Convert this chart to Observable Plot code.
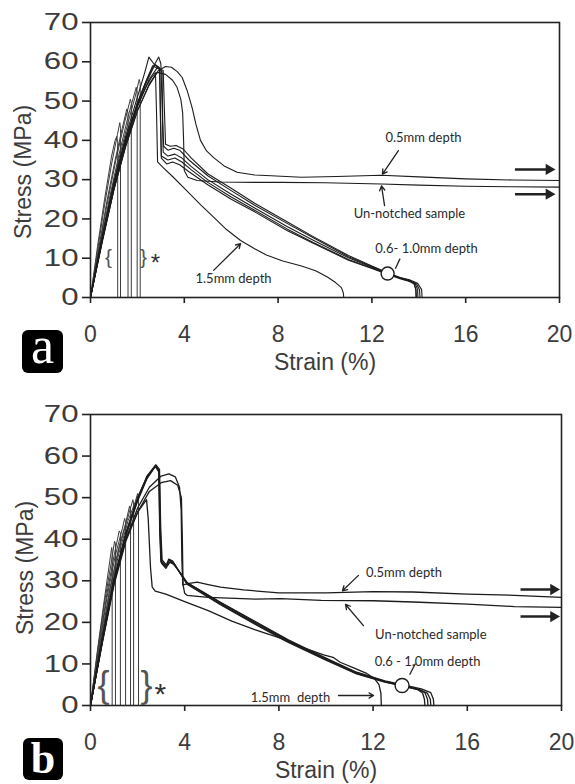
<!DOCTYPE html>
<html><head><meta charset="utf-8">
<script src="https://cdn.jsdelivr.net/npm/d3@7"></script>
<script src="https://cdn.jsdelivr.net/npm/@observablehq/plot@0.6"></script>
<style>
html,body{margin:0;padding:0;background:#fff;}
#wrap{position:relative;width:575px;height:784px;overflow:hidden;background:#fff;}
#wrap > svg{position:absolute;left:0;}
</style></head><body><div id="wrap"></div>
<script>
// ---------- tick labels ----------
const xTicks = [0, 4, 8, 12, 16, 20];
const yTicks = [0, 10, 20, 30, 40, 50, 60, 70];

// ---------- panel a : brittle (*) samples ----------
const a_brittle_1 = [[0,0],[0.3,13],[0.6,25],[0.9,36],[1.05,40],[1.12,41],[1.16,39.5],[1.16,0]];
const a_brittle_2 = [[0,0],[0.3,12],[0.6,23.5],[0.9,34],[1.15,41.5],[1.25,44.5],[1.28,43],[1.28,0]];
const a_brittle_3 = [[0,0],[0.35,12.5],[0.7,24.5],[1.05,35],[1.35,43],[1.55,48],[1.6,47],[1.6,0]];
const a_brittle_4 = [[0,0],[0.35,12],[0.7,23.5],[1.1,35.5],[1.45,44.5],[1.7,50.5],[1.74,49.5],[1.74,0]];
const a_brittle_5 = [[0,0],[0.4,13],[0.8,25],[1.2,36],[1.6,46],[1.95,53.5],[1.99,52.5],[1.99,0]];
const a_brittle_6 = [[0,0],[0.4,12.5],[0.8,24],[1.2,35],[1.6,44.5],[1.9,51],[2.08,55.5],[2.12,54.5],[2.12,0]];

// ---------- panel a : 0.6-1.0 mm depth ----------
const a_notch06_1 = [[0,0],[0.5,15.5],[1,29.5],[1.5,41],[2,51],[2.3,57],[2.49,61.2],[2.7,59.5],[3.05,57.5],[3.08,45],[3.12,38.5],[3.3,37.5],[3.55,38],[3.8,37.5],[4.2,35],[5,31],[6,27.2],[7,23.5],[8.4,18.8],[9.5,15.2],[11,10.4],[12,7.9],[12.67,6.2],[13.2,5],[13.6,4.4],[13.8,3.5],[13.87,2],[13.88,0]];
const a_notch06_2 = [[0,0],[0.5,15],[1,28.5],[1.5,40],[2,49.5],[2.4,55.5],[2.7,59],[2.91,61.2],[3.0,59.5],[3.05,50],[3.1,37],[3.3,36],[3.6,36.5],[3.9,35.5],[4.3,33.3],[5,30],[6,26.3],[7,22.8],[8.4,18],[9.5,14.6],[11,10.1],[12,7.7],[12.67,6.1],[13.2,5],[13.6,4.3],[13.85,3.5],[13.95,2],[13.96,0]];
const a_notch06_3 = [[0,0],[0.5,14.5],[1,28],[1.5,39.5],[2,49],[2.4,55],[2.75,59.3],[2.95,58.5],[2.98,48],[3.02,36],[3.3,35],[3.6,35.5],[3.9,34.5],[4.3,32.5],[5,29.3],[6,25.6],[7,22.2],[8.4,17.4],[9.5,14],[11,9.7],[12,7.5],[12.67,6],[13.2,4.9],[13.6,4.2],[13.9,3.5],[14.03,2],[14.05,0]];
const a_notch06_4 = [[0,0],[0.5,14.5],[1,27.5],[1.5,39],[2,48.5],[2.5,55.5],[2.85,58.5],[3.1,57.8],[3.15,48],[3.2,39],[3.4,38.5],[3.65,38.7],[3.95,37.8],[4.3,35.5],[5,31.5],[6,27.8],[7,24],[8.4,19.2],[9.5,15.5],[11,10.7],[12,8],[12.67,6.3],[13.2,5.1],[13.6,4.5],[13.95,3.6],[14.12,2],[14.14,0]];
const a_notch06_5 = [[0,0],[0.5,15],[1,28.5],[1.5,40],[2,49.5],[2.4,55.5],[2.65,59],[2.95,58],[2.98,46],[3.02,35.5],[3.25,34],[3.5,34.5],[3.8,33.8],[4.2,32],[5,28.7],[6,25],[7,21.8],[8.4,17],[9.5,13.8],[11,9.5],[12,7.4],[12.67,5.9],[13.2,4.8],[13.6,4.1],[13.8,3.5],[13.88,2],[13.9,0]];

// ---------- panel a : 1.5 mm, 0.5 mm, un-notched ----------
const a_notch15 = [[0,0],[0.5,15],[1,29],[1.5,40.5],[2,49],[2.4,54],[2.6,56],[2.77,57.2],[2.82,46],[2.86,34.5],[3.11,33],[3.5,30.8],[4.1,27.2],[4.7,23.6],[5.26,20.4],[5.8,17.3],[6.4,14.5],[7,12.4],[7.5,10.8],[8.2,9.3],[9,8],[9.6,6.8],[10.1,5.2],[10.45,3.8],[10.7,2.5],[10.78,1.2],[10.8,0]];
const a_notch05 = [[0,0],[0.5,14],[1,27.5],[1.5,38.5],[2,47.5],[2.5,54.3],[2.9,57.8],[3.2,58.8],[3.45,58.6],[3.7,57.5],[3.91,56],[4.12,52.7],[4.33,48.4],[4.5,44],[4.69,40],[4.95,37.3],[5.25,35.6],[5.7,33.5],[6.25,31.9],[7,31.2],[7.7,31],[9,30.6],[10.5,30.8],[12.4,31.1],[14,30.7],[16,30.2],[18,29.9],[20,29.8]];
const a_unnotched = [[0,0],[0.5,14.5],[1,27.5],[1.5,38.5],[2,47.5],[2.5,54],[2.84,57.3],[3.2,56.8],[3.5,55.3],[3.69,53.5],[3.85,50.5],[3.93,47],[3.97,40],[4.0,32.3],[4.15,30.6],[4.55,29.8],[5.5,29.4],[7,29.3],[8.1,29.3],[10,29.2],[12.4,28.9],[14,28.6],[16,28.3],[18,28.2],[20,28.1]];

// ---------- panel b : brittle (*) samples ----------
const b_brittle_1 = [[0,0],[0.3,13.5],[0.6,26],[0.85,36],[0.9,38],[0.92,37],[0.92,0]];
const b_brittle_2 = [[0,0],[0.3,13],[0.6,25],[0.9,35],[1.02,39.5],[1.06,39],[1.06,0]];
const b_brittle_3 = [[0,0],[0.35,14],[0.7,27],[1.0,36],[1.22,42],[1.27,41.5],[1.27,0]];
const b_brittle_4 = [[0,0],[0.35,13],[0.7,26],[1.05,36],[1.35,42.5],[1.45,45],[1.49,44],[1.49,0]];
const b_brittle_5 = [[0,0],[0.4,14],[0.8,27.5],[1.2,38],[1.5,44],[1.66,48],[1.7,47],[1.7,0]];
const b_brittle_6 = [[0,0],[0.4,13.5],[0.8,27],[1.2,37.5],[1.55,44.5],[1.8,49.5],[1.83,48.5],[1.83,0]];
const b_brittle_7 = [[0,0],[0.4,13],[0.8,26],[1.2,36.5],[1.6,44.5],[1.9,49],[2.0,51],[2.04,50],[2.04,0]];

// ---------- panel b : 0.6-1.0 mm depth ----------
const b_notch06_1 = [[0,0],[0.5,16],[1,30.5],[1.5,41.5],[2,50],[2.4,55],[2.76,57.8],[2.9,56.5],[2.95,42],[3.0,34.8],[3.2,33.5],[3.35,35],[3.5,34.5],[3.65,33.2],[4.1,29.3],[5.5,24.5],[7,19.7],[8.4,15.4],[10,11],[11.3,7.7],[12.5,5.7],[13.23,4.8],[13.9,3.8],[14.1,3],[14.18,1.5],[14.2,0]];
const b_notch06_2 = [[0,0],[0.5,15.5],[1,30],[1.5,41],[2,49.5],[2.4,54.8],[2.76,57.6],[2.92,56.3],[2.97,41],[3.02,34.2],[3.2,33],[3.38,34.6],[3.55,34.2],[3.7,32.8],[4.1,29.5],[5.5,24.8],[7,20],[8.4,15.6],[10,11.2],[11.3,7.9],[12.5,5.8],[13.23,4.9],[13.95,3.9],[14.2,3.1],[14.31,1.5],[14.33,0]];
const b_notch06_3 = [[0,0],[0.5,15.8],[1,30.2],[1.5,41.2],[2,49.8],[2.4,55.2],[2.78,57.9],[2.93,56.8],[2.98,43],[3.04,35],[3.22,33.8],[3.32,35.2],[3.48,34.8],[3.62,33.5],[4.1,29.2],[5.5,24.3],[7,19.5],[8.4,15.2],[10,10.9],[11.3,7.6],[12.5,5.6],[13.23,4.7],[14.0,3.7],[14.3,3],[14.43,1.5],[14.45,0]];
const b_notch06_4 = [[0,0],[0.5,15.2],[1,29.8],[1.5,40.8],[2,49.2],[2.4,54.6],[2.75,57.5],[2.9,56.2],[2.94,42],[2.99,34.5],[3.18,33.4],[3.36,34.5],[3.52,34],[3.68,32.9],[4.1,29.6],[5.5,24.9],[7,20.2],[8.4,15.8],[10,11.4],[11.3,8],[12.5,5.9],[13.23,5],[14.05,4],[14.45,3.1],[14.56,1.5],[14.58,0]];

// ---------- panel b : 1.5 mm, 0.5 mm, un-notched ----------
const b_notch15 = [[0,0],[0.5,16],[1,30],[1.5,40],[2,46.5],[2.38,49.5],[2.45,45],[2.55,33],[2.62,28.5],[2.75,27.5],[3.2,26.8],[4,25],[5,22.8],[6,20.3],[7,18.2],[8,16.3],[9,14],[9.9,12.2],[10.3,11.6],[10.6,10.4],[11.2,9],[11.7,7.8],[12.05,6.5],[12.25,5],[12.33,3],[12.35,0]];
const b_notch05 = [[0,0],[0.5,15.5],[1,29.5],[1.5,40],[2,47.5],[2.5,52.5],[3,55.2],[3.33,55.7],[3.6,55],[3.78,52.5],[3.85,47],[3.88,35],[3.92,29],[4.2,29.4],[4.53,29.7],[5,29.1],[5.52,28.5],[6.5,27.8],[8,27.1],[10,27.1],[12,27.4],[13.7,27.3],[16,26.8],[18,26.5],[20,26]];
const b_unnotched = [[0,0],[0.5,15],[1,29],[1.5,39.5],[2,46.5],[2.5,51.5],[3,53.6],[3.4,54.1],[3.7,53],[3.86,50],[3.9,40],[3.93,29],[4.0,27],[4.1,26.5],[5,26],[7,25.6],[8.07,25.7],[9.8,25.3],[12,25.2],[13.7,24.9],[16,24.4],[18,23.8],[20,23.6]];

// ---------- annotations (data units) ----------
const a_labels = [
  {x: 14.2, y: 40.7, text: "0.5mm depth"},
  {x: 13.6, y: 21.4, text: "Un-notched sample"},
  {x: 14.33, y: 12.5, text: "0.6- 1.0mm depth"},
  {x: 6.1, y: 4.8, text: "1.5mm depth"}
];
const a_pointers = [
  {x1: 13.13, y1: 37.4, x2: 12.45, y2: 31.4},
  {x1: 12.54, y1: 23.4, x2: 12.41, y2: 28.4},
  {x1: 5.25, y1: 6.9, x2: 6.4, y2: 13.7}
];
const a_leader = [{x1: 13.2, y1: 9.9, x2: 13.0, y2: 7.3}];
const a_circle = [{x: 12.67, y: 6.1}];
const a_continues = [{x1: 18.1, x2: 19.55, y: 32.6}, {x1: 18.1, x2: 19.55, y: 26.3}];
const a_braces = [{x: 0.77, y: 10.2, text: "{"}, {x: 2.26, y: 10.2, text: "}"}];
const a_star = [{x: 2.77, y: 8.6, text: "*"}];

const b_labels = [
  {x: 13.31, y: 32.0, text: "0.5mm depth"},
  {x: 14.45, y: 17.1, text: "Un-notched sample"},
  {x: 14.31, y: 10.6, text: "0.6 - 1.0mm depth"},
  {x: 8.49, y: 1.9, text: "1.5mm\u00a0 depth"}
];
const b_pointers = [
  {x1: 11.38, y1: 31.3, x2: 10.70, y2: 27.6},
  {x1: 11.59, y1: 19.2, x2: 10.83, y2: 24.3},
  {x1: 10.53, y1: 2.4, x2: 12.02, y2: 2.4}
];
const b_leader = [{x1: 13.8, y1: 10.1, x2: 13.55, y2: 7.4}];
const b_circle = [{x: 13.23, y: 4.8}];
const b_continues = [{x1: 18.26, x2: 19.66, y: 27.9}, {x1: 18.26, x2: 19.66, y: 21.4}];
const b_braces = [{x: 0.55, y: 4.8, text: "{"}, {x: 2.38, y: 4.8, text: "}"}];
const b_star = [{x: 2.97, y: 2.6, text: "*"}];

// ---------- build ----------
function rows(curves) {
  return Object.entries(curves).flatMap(([k, pts]) => pts.map(([x, y]) => ({series: k, x, y})));
}

function makePanel(o) {
  const svg = Plot.plot({
    width: 575, height: o.height,
    marginLeft: 90, marginRight: o.mr, marginTop: o.mt, marginBottom: o.mb,
    style: {fontFamily: "'Liberation Sans', Arial, sans-serif", background: "transparent", overflow: "visible"},
    x: {domain: [0, 20]},
    y: {domain: [0, 70]},
    marks: [
      Plot.line(rows(o.brittle), {x: "x", y: "y", z: "series", stroke: "#3a3a3a", strokeWidth: 1}),
      Plot.line(rows(o.main), {x: "x", y: "y", z: "series", stroke: "#1c1c1c", strokeWidth: o.mainWidth}),
      Plot.frame({stroke: "#222", strokeWidth: 1.6}),
      Plot.axisX({ticks: xTicks, tickSize: 6, tickPadding: 22, fontSize: 23, fill: "#3c3c3c", stroke: "#222", strokeWidth: 1.6, label: null}),
      Plot.axisY({ticks: yTicks, tickSize: 8, tickPadding: 4, fontSize: 24, fill: "#3c3c3c", stroke: "#222", strokeWidth: 1.6, label: null}),
      Plot.text(["Strain (%)"], {text: d => d, frameAnchor: "bottom", lineAnchor: "middle", textAnchor: "middle", dy: 65, fontSize: 23, fill: "#3c3c3c"}),
      Plot.text(["Stress (MPa)"], {text: d => d, frameAnchor: "left", lineAnchor: "middle", textAnchor: "middle", dx: o.ylabDx, dy: o.ylabDy, rotate: -90, fontSize: 23, fill: "#3c3c3c"}),
      Plot.arrow(o.pointers, {x1: "x1", y1: "y1", x2: "x2", y2: "y2", stroke: "#222", strokeWidth: 1.3, headLength: 6}),
      Plot.link(o.leader, {x1: "x1", y1: "y1", x2: "x2", y2: "y2", stroke: "#222", strokeWidth: 1.3}),
      Plot.link(o.continues, {x1: "x1", x2: "x2", y1: "y", y2: "y", stroke: "#222", strokeWidth: 2.4}),
      Plot.dot(o.continues, {x: "x2", y: "y", symbol: "triangle", rotate: 90, r: 4.2, fill: "#222", stroke: "none"}),
      Plot.dot(o.circle, {x: "x", y: "y", r: o.circleR, stroke: "#1c1c1c", fill: "white", strokeWidth: 1.4}),
      Plot.text(o.labels, {x: "x", y: "y", text: "text", fontSize: 13, fontFamily: "Lato, 'Open Sans', sans-serif", fill: "#2a2a2a"}),
      Plot.text(o.braces, {x: "x", y: "y", text: "text", fontSize: o.braceSize, fill: "#555"}),
      Plot.text(o.star, {x: "x", y: "y", text: "text", fontSize: o.starSize, fill: "#333"})
    ]
  });
  // widen the y tick labels as in the reference
  d3.select(svg).selectAll('g[aria-label="y-axis tick label"] text').each(function () {
    const t = this.getAttribute("transform");
    if (t && t.includes("translate")) this.setAttribute("transform", t + " scale(1.3,1)");
  });
  svg.style.top = o.top + "px";
  return svg;
}

// badge drawn in a padded svg so the glyph box stays inside its own svg
function badge(letter, left, top, w, h, fontSize, baseline, weight, padTop, padBottom) {
  const pad = 12;
  const s = d3.create("svg").attr("width", w + 2 * pad).attr("height", h + padTop + padBottom)
    .style("position", "absolute").style("left", (left - pad) + "px").style("top", (top - padTop) + "px")
    .style("overflow", "visible");
  s.append("rect").attr("x", pad).attr("y", padTop).attr("width", w).attr("height", h).attr("rx", 6).attr("fill", "#000");
  s.append("text").attr("x", pad + w / 2).attr("y", padTop + baseline).attr("text-anchor", "middle")
    .attr("font-family", "'Liberation Serif', 'DejaVu Serif', serif").attr("font-size", fontSize)
    .attr("font-weight", weight).attr("fill", "#fff").text(letter);
  return s.node();
}

const wrap = document.getElementById("wrap");
wrap.appendChild(makePanel({
  top: 0, height: 390, mt: 22, mb: 93, mr: 16, mainWidth: 1.1,
  brittle: {a_brittle_1, a_brittle_2, a_brittle_3, a_brittle_4, a_brittle_5, a_brittle_6},
  main: {a_notch06_1, a_notch06_2, a_notch06_3, a_notch06_4, a_notch06_5, a_notch15, a_notch05, a_unnotched},
  labels: a_labels, pointers: a_pointers, leader: a_leader, circle: a_circle, continues: a_continues,
  braces: a_braces, star: a_star, braceSize: 21, starSize: 24, circleR: 6.5, ylabDx: -67, ylabDy: 12
}));
wrap.appendChild(makePanel({
  top: 390, height: 394, mt: 24, mb: 79, mr: 14, mainWidth: 1.3,
  brittle: {b_brittle_1, b_brittle_2, b_brittle_3, b_brittle_4, b_brittle_5, b_brittle_6, b_brittle_7},
  main: {b_notch06_1, b_notch06_2, b_notch06_3, b_notch06_4, b_notch15, b_notch05, b_unnotched},
  labels: b_labels, pointers: b_pointers, leader: b_leader, circle: b_circle, continues: b_continues,
  braces: b_braces, star: b_star, braceSize: 36, starSize: 30, circleR: 7, ylabDx: -65, ylabDy: 8
}));
wrap.appendChild(badge("a", 22, 330, 41, 43, 52, 33, "normal", 16, 12));
wrap.appendChild(badge("b", 23, 738, 40, 42, 44, 35, "bold", 12, 4));
</script></body></html>
